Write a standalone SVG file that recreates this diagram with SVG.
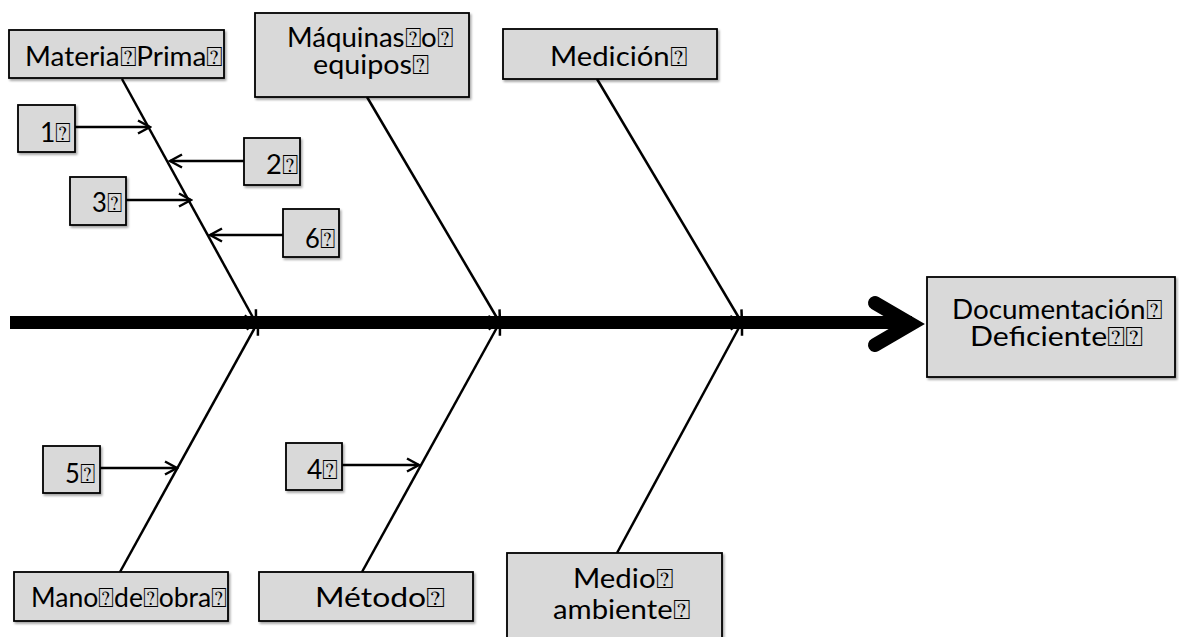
<svg xmlns="http://www.w3.org/2000/svg" width="1179" height="637" viewBox="0 0 1179 637">
<style>
.box{fill:#d9d9d9;stroke:#000;stroke-width:1.8;filter:url(#sh)}
.t{font-family:Lato,"Open Sans","Liberation Sans",sans-serif;font-size:27px;fill:#000}
.bone{stroke:#000;stroke-width:2.5;fill:none;marker-end:url(#ah)}
</style>
<defs>
<filter id="sh" x="-10%" y="-10%" width="130%" height="130%">
<feDropShadow dx="1.5" dy="2" stdDeviation="1.2" flood-color="#000" flood-opacity="0.35"/>
</filter>
<marker id="ah" markerUnits="userSpaceOnUse" markerWidth="16" markerHeight="16" viewBox="0 0 16 16" refX="14" refY="8" orient="auto">
<path d="M2,1.5 L14,8 L2,14.5" fill="none" stroke="#000" stroke-width="2.5" stroke-linejoin="miter"/>
</marker>
</defs>
<g id="connectors">
<line x1="10" y1="322.5" x2="912" y2="322.5" stroke="#000" stroke-width="13"/>
<polyline points="875,303 911,324 875,345" fill="none" stroke="#000" stroke-width="14" stroke-linecap="round" stroke-linejoin="miter" stroke-miterlimit="10"/>
<line class="bone" x1="122" y1="79" x2="256" y2="323"/>
<line class="bone" x1="367" y1="97" x2="500" y2="323"/>
<line class="bone" x1="597" y1="79" x2="742" y2="323"/>
<line class="bone" x1="120" y1="572" x2="258" y2="322"/>
<line class="bone" x1="362" y1="572" x2="500" y2="322"/>
<line class="bone" x1="617" y1="553" x2="742" y2="322"/>
<line class="bone" x1="75" y1="127" x2="150" y2="127"/>
<line class="bone" x1="244" y1="161" x2="170" y2="161"/>
<line class="bone" x1="126" y1="200" x2="191" y2="200"/>
<line class="bone" x1="283" y1="235" x2="210" y2="235"/>
<line class="bone" x1="100" y1="468" x2="177" y2="468"/>
<line class="bone" x1="342" y1="465" x2="419" y2="465"/>
</g>
<g id="n-materia"><rect class="box" x="9" y="30" width="215" height="48"/><text class="t" x="25" y="66" textLength="198" lengthAdjust="spacingAndGlyphs">Materia⍰Prima⍰</text></g>
<g id="n-maquinas"><rect class="box" x="255" y="13" width="214" height="84"/><text class="t" x="287" y="47" textLength="166" lengthAdjust="spacingAndGlyphs">Máquinas⍰o⍰</text><text class="t" x="313" y="74" textLength="116" lengthAdjust="spacingAndGlyphs">equipos⍰</text></g>
<g id="n-medicion"><rect class="box" x="503" y="29" width="214" height="50"/><text class="t" x="550" y="66" textLength="137" lengthAdjust="spacingAndGlyphs">Medición⍰</text></g>
<g id="n-doc"><rect class="box" x="927" y="277" width="248" height="100"/><text class="t" x="952" y="319" textLength="210" lengthAdjust="spacingAndGlyphs">Documentación⍰</text><text class="t" x="970" y="346" textLength="173" lengthAdjust="spacingAndGlyphs">Deficiente⍰⍰</text></g>
<g id="n-1"><rect class="box" x="18" y="105" width="57" height="47"/><text class="t" x="40" y="142" textLength="31" lengthAdjust="spacingAndGlyphs">1⍰</text></g>
<g id="n-2"><rect class="box" x="244" y="138" width="56" height="47"/><text class="t" x="266" y="174" textLength="32" lengthAdjust="spacingAndGlyphs">2⍰</text></g>
<g id="n-3"><rect class="box" x="70" y="177" width="56" height="48"/><text class="t" x="92" y="212" textLength="30" lengthAdjust="spacingAndGlyphs">3⍰</text></g>
<g id="n-6"><rect class="box" x="283" y="209" width="56" height="48"/><text class="t" x="305" y="248" textLength="30" lengthAdjust="spacingAndGlyphs">6⍰</text></g>
<g id="n-5"><rect class="box" x="43" y="446" width="57" height="47"/><text class="t" x="65" y="483" textLength="30" lengthAdjust="spacingAndGlyphs">5⍰</text></g>
<g id="n-4"><rect class="box" x="286" y="443" width="56" height="47"/><text class="t" x="307" y="479" textLength="31" lengthAdjust="spacingAndGlyphs">4⍰</text></g>
<g id="n-mano"><rect class="box" x="14" y="572" width="214" height="49"/><text class="t" x="31" y="607" textLength="196" lengthAdjust="spacingAndGlyphs">Mano⍰de⍰obra⍰</text></g>
<g id="n-metodo"><rect class="box" x="259" y="572" width="214" height="49"/><text class="t" x="315" y="607" textLength="130" lengthAdjust="spacingAndGlyphs">Método⍰</text></g>
<g id="n-medio"><rect class="box" x="507" y="553" width="215" height="95"/><text class="t" x="573" y="588" textLength="100" lengthAdjust="spacingAndGlyphs">Medio⍰</text><text class="t" x="553" y="619" textLength="137" lengthAdjust="spacingAndGlyphs">ambiente⍰</text></g>
</svg>
